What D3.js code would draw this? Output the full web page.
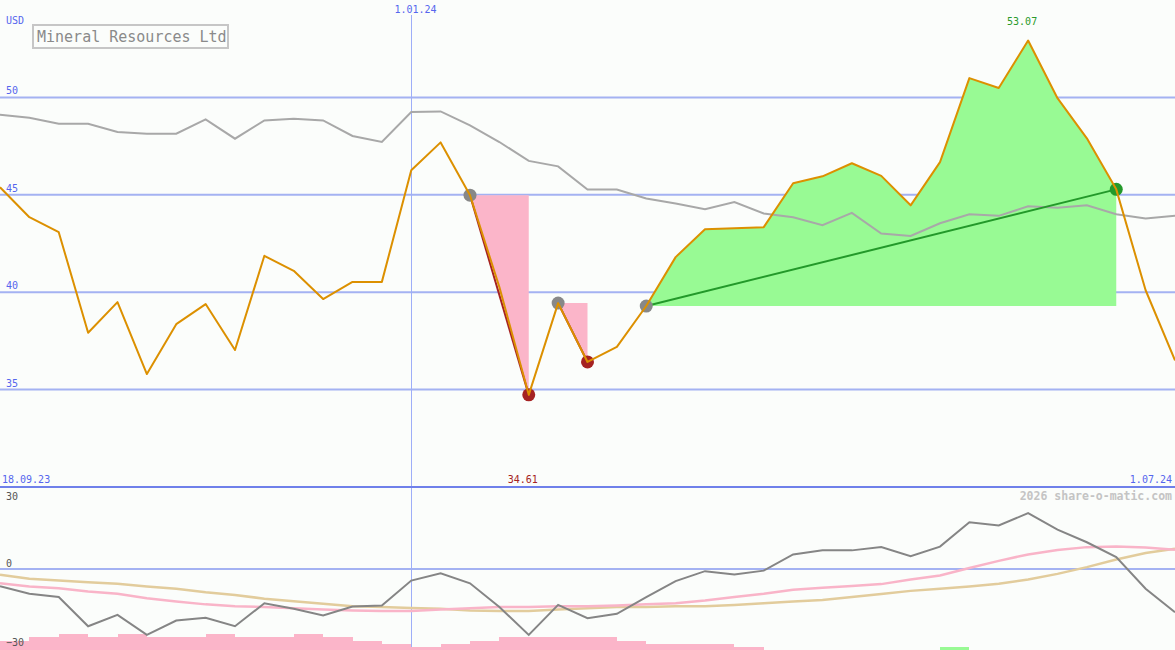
<!DOCTYPE html>
<html>
<head>
<meta charset="utf-8">
<script src="https://cdn.jsdelivr.net/npm/d3@7"></script>
<style>
  html, body { margin: 0; padding: 0; background: #fbfdfb; }
  svg { display: block; }
  text { font-family: "DejaVu Sans Mono", "Liberation Mono", monospace; }
</style>
</head>
<body>
<script>
// ---------------- DATA ----------------
const title = "Mineral Resources Ltd";
const currency = "USD";
const dates = ["2023-09-25","2023-10-02","2023-10-09","2023-10-16","2023-10-23","2023-10-30","2023-11-06","2023-11-13","2023-11-20","2023-11-27",
  "2023-12-04","2023-12-11","2023-12-18","2023-12-25","2024-01-01","2024-01-08","2024-01-15","2024-01-22","2024-01-29","2024-02-05",
  "2024-02-12","2024-02-19","2024-02-26","2024-03-04","2024-03-11","2024-03-18","2024-03-25","2024-04-01","2024-04-08","2024-04-15",
  "2024-04-22","2024-04-29","2024-05-06","2024-05-13","2024-05-20","2024-05-27","2024-06-03","2024-06-10","2024-06-17","2024-06-24","2024-07-01"];
const price = [45.39,43.85,43.08,37.92,39.49,35.80,38.36,39.39,37.03,41.87,
  41.10,39.65,40.53,40.53,46.26,47.69,44.98,40.26,34.73,39.44,
  36.42,37.19,39.29,41.80,43.23,43.28,43.34,45.59,45.95,46.62,
  45.97,44.46,46.68,50.99,50.48,52.92,49.96,47.90,45.28,40.10,36.50];
const benchmark = [49.11,48.96,48.65,48.65,48.22,48.14,48.14,48.87,47.88,48.82,
  48.91,48.82,48.02,47.71,49.25,49.28,48.56,47.71,46.74,46.46,
  45.27,45.27,44.81,44.55,44.26,44.63,44.04,43.85,43.44,44.07,
  43.01,42.89,43.54,44.00,43.92,44.41,44.33,44.46,44.00,43.78,43.92];
const momentum = [-6.4,-9.2,-10.4,-21.2,-17.0,-24.4,-19.1,-18.1,-21.2,-12.7,
  -14.7,-17.2,-13.9,-13.5,-4.3,-1.6,-5.3,-14.1,-24.4,-13.3,
  -18.2,-16.6,-10.4,-4.5,-0.8,-2.0,-0.6,5.4,6.9,6.9,
  8.1,4.7,8.3,17.3,16.1,20.7,14.6,9.9,4.4,-7.3,-16.0];
const signalFast = [-5.3,-6.5,-7.1,-8.3,-9.2,-10.8,-12.0,-13.1,-13.8,-14.1,
  -14.5,-15.0,-15.4,-15.6,-15.6,-15.0,-14.5,-14.1,-14.1,-13.8,
  -13.8,-13.5,-13.1,-12.7,-11.7,-10.4,-9.2,-7.7,-6.9,-6.3,
  -5.6,-3.9,-2.4,0.4,3.0,5.4,7.0,8.1,8.3,8.0,7.1];
const signalSlow = [-2.1,-3.6,-4.3,-4.9,-5.5,-6.5,-7.3,-8.6,-9.6,-11.0,
  -11.9,-12.9,-13.8,-14.1,-14.4,-14.7,-15.4,-15.6,-15.6,-15.0,
  -14.5,-14.1,-14.1,-13.8,-13.8,-13.3,-12.7,-12.0,-11.5,-10.4,
  -9.3,-8.1,-7.3,-6.5,-5.5,-3.9,-1.8,0.7,3.5,5.9,7.5];
// histogram levels per week interval (negative = pink, positive = green)
const histogram = [-3,-4,-5,-4,-5,-4,-4,-5,-4,-4,
  -5,-4,-3,-2,-1,-2,-3,-4,-4,-4,
  -4,-3,-2,-2,-2,-1,0,0,0,0,
  0,0,1,0,0,0,0,0,0,0];
const priceTicks = [50,45,40,35];
const lowerTicks = [30,0,-30];
const xLabels = ["18.09.23","1.01.24","1.07.24"];
const markerDate = "2024-01-01";
const drawdowns = [{from:16,to:18},{from:19,to:20}];
const gains = [{from:22,to:38}];
const highLabel = "53.07", highIndex = 35;
const lowLabel = "34.61", lowIndex = 18;
const credit = "2026 share-o-matic.com";

// ---------------- SETUP ----------------
const W = 1175, H = 650, mainBottom = 487;
const parse = d3.timeParse("%Y-%m-%d");
const dts = dates.map(parse);
const x = d3.scaleTime().domain([dts[0], dts[dts.length-1]]).range([0, W]);
const y = d3.scaleLinear().domain([30,55]).range([mainBottom, 0]);
const yl = d3.scaleLinear().domain([-30,30]).range([650, 488]);
const yb = d3.scaleLinear().domain([0,5]).range([650, 634.3]);

const C = {
  bg:"#fbfdfb", grid:"#a4b2f2", vgrid:"#9eaef8", sep:"#6f80ea", label:"#5566ee",
  orange:"#dc9000", gray:"#a8a8a8", pink:"#fbb5c9", green:"#98fa94",
  red:"#a52222", dgreen:"#23992a", marker:"#888888",
  mom:"#858585", fast:"#f9b4c8", slow:"#e2cc9c"
};

const svg = d3.select("body").append("svg").attr("width", W).attr("height", H);
svg.append("rect").attr("width", W).attr("height", H).attr("fill", C.bg);
svg.append("clipPath").attr("id","clipMain").append("rect").attr("x",0).attr("y",0).attr("width",W).attr("height",mainBottom);
svg.append("clipPath").attr("id","clipLow").append("rect").attr("x",0).attr("y",488).attr("width",W).attr("height",H-488);

// grid
svg.selectAll(".hg").data(priceTicks).enter().append("line")
  .attr("x1",0).attr("x2",W).attr("y1",d=>y(d)).attr("y2",d=>y(d))
  .attr("stroke",C.grid).attr("stroke-width",2);
svg.append("line").attr("x1",0).attr("x2",W).attr("y1",yl(0)).attr("y2",yl(0))
  .attr("stroke",C.grid).attr("stroke-width",2);
const vx = Math.round(x(parse(markerDate))) + 0.5;
svg.append("line").attr("x1",vx).attr("x2",vx).attr("y1",15).attr("y2",H)
  .attr("stroke",C.vgrid).attr("stroke-width",1).attr("shape-rendering","crispEdges");

const main = svg.append("g").attr("clip-path","url(#clipMain)");

// drawdown fills
drawdowns.forEach(d => {
  const idx = d3.range(d.from, d.to+1);
  const lvl = price[d.from];
  main.append("path")
    .attr("d", d3.area().x(i=>x(dts[i])).y0(()=>y(lvl)).y1(i=>y(price[i]))(idx))
    .attr("fill", C.pink);
});
gains.forEach(d => {
  const idx = d3.range(d.from, d.to+1);
  const lvl = price[d.from];
  main.append("path")
    .attr("d", d3.area().x(i=>x(dts[i])).y0(()=>y(lvl)).y1(i=>y(price[i]))(idx))
    .attr("fill", C.green);
});

// benchmark
const lineMain = arr => d3.line().x((d,i)=>x(dts[i])).y(d=>y(d))(arr);
main.append("path").attr("d", lineMain(benchmark)).attr("fill","none")
  .attr("stroke",C.gray).attr("stroke-width",2);

// trend lines
drawdowns.forEach(d => {
  main.append("line").attr("x1",x(dts[d.from])).attr("y1",y(price[d.from]))
    .attr("x2",x(dts[d.to])).attr("y2",y(price[d.to]))
    .attr("stroke",C.red).attr("stroke-width",2);
});
gains.forEach(d => {
  main.append("line").attr("x1",x(dts[d.from])).attr("y1",y(price[d.from]))
    .attr("x2",x(dts[d.to])).attr("y2",y(price[d.to]))
    .attr("stroke",C.dgreen).attr("stroke-width",2);
});

// markers
const markers = [];
drawdowns.forEach(d => { markers.push({i:d.from,c:C.marker}); markers.push({i:d.to,c:C.red}); });
gains.forEach(d => { markers.push({i:d.from,c:C.marker}); markers.push({i:d.to,c:C.dgreen}); });
main.selectAll(".mk").data(markers).enter().append("circle")
  .attr("cx",d=>x(dts[d.i])).attr("cy",d=>y(price[d.i])).attr("r",6.5).attr("fill",d=>d.c);

// price line
main.append("path").attr("d", lineMain(price)).attr("fill","none")
  .attr("stroke",C.orange).attr("stroke-width",2).attr("stroke-linejoin","round");

// separator
svg.append("line").attr("x1",0).attr("x2",W).attr("y1",mainBottom).attr("y2",mainBottom)
  .attr("stroke",C.sep).attr("stroke-width",2);

// ---------------- LOWER PANEL ----------------
const low = svg.append("g").attr("clip-path","url(#clipLow)");
low.selectAll(".bar").data(histogram).enter().append("rect")
  .attr("x",(d,i)=>x(dts[i]))
  .attr("width",(d,i)=>x(dts[i+1])-x(dts[i]))
  .attr("y",d=>yb(Math.abs(d)))
  .attr("height",d=>650-yb(Math.abs(d)))
  .attr("fill",d=>d<0?C.pink:C.green)
  .attr("shape-rendering","crispEdges");
const lineLow = arr => d3.line().x((d,i)=>x(dts[i])).y(d=>yl(d))(arr);
low.append("path").attr("d",lineLow(signalSlow)).attr("fill","none").attr("stroke",C.slow).attr("stroke-width",2.5);
low.append("path").attr("d",lineLow(signalFast)).attr("fill","none").attr("stroke",C.fast).attr("stroke-width",2.5);
low.append("path").attr("d",lineLow(momentum)).attr("fill","none").attr("stroke",C.mom).attr("stroke-width",2);

// ---------------- TEXT ----------------
const T = (txt,xx,yy,opts={}) => svg.append("text").text(txt).attr("x",xx).attr("y",yy)
  .attr("font-size",opts.size||10).attr("fill",opts.fill||C.label)
  .attr("text-anchor",opts.anchor||"start").attr("font-weight",opts.weight||"normal");

T(currency, 6, 24);
priceTicks.forEach(v => T(String(v), 6, y(v)-3));
// title box
svg.append("rect").attr("x",33).attr("y",25).attr("width",195).attr("height",23)
  .attr("fill","none").attr("stroke","#c6c6c6").attr("stroke-width",2);
T(title, 37, 42, {size:15, fill:"#8a8a8a"});

T(xLabels[1], vx+4, 13, {anchor:"middle"});
T(xLabels[0], 2, 483);
T(xLabels[2], 1172, 483, {anchor:"end"});
T(highLabel, x(dts[highIndex])-6, 25, {anchor:"middle", fill:"#2a9a2a"});
T(lowLabel, x(dts[lowIndex])-6, 483, {anchor:"middle", fill:"#a52222"});

T(credit, 1172, 500, {anchor:"end", size:11.5, fill:"#c4c4c4", weight:"bold"});
T(String(lowerTicks[0]), 6, yl(lowerTicks[0])+12, {fill:"#555"});
T(String(lowerTicks[1]), 6, yl(lowerTicks[1])-2, {fill:"#555"});
T(String(lowerTicks[2]).replace("-","\u2212"), 6, yl(lowerTicks[2])-4, {fill:"#555"});
</script>
</body>
</html>
